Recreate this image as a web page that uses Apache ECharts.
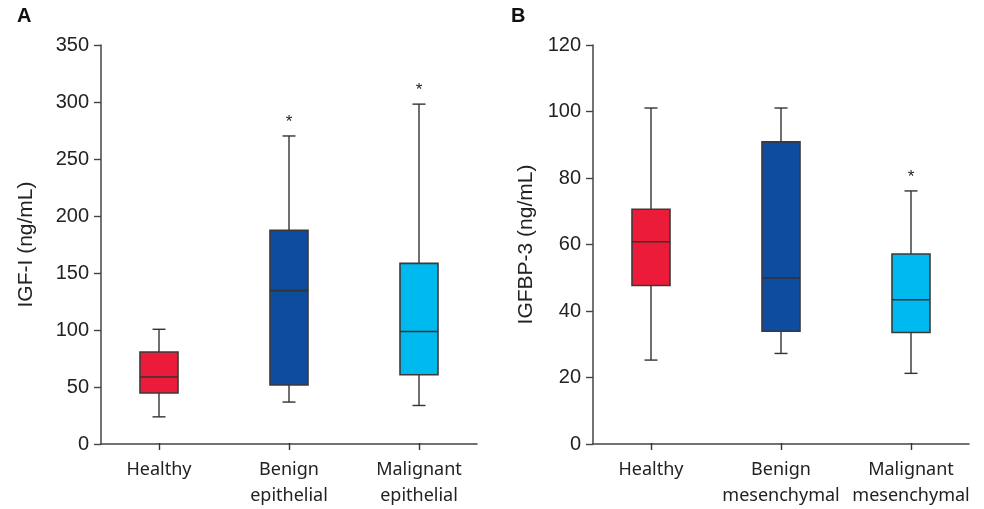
<!DOCTYPE html>
<html>
<head>
<meta charset="utf-8">
<script src="https://cdn.jsdelivr.net/npm/echarts@6/dist/echarts.min.js"></script>
<style>
  html, body { margin: 0; padding: 0; background: #fff; }
  #chart { width: 984px; height: 509px; }
</style>
</head>
<body>
<div id="chart"></div>
<script>
// categories
const catsA = ['Healthy', 'Benign\nepithelial', 'Malignant\nepithelial'];
const catsB = ['Healthy', 'Benign\nmesenchymal', 'Malignant\nmesenchymal'];
// [min, Q1, median, Q3, max]
const igf1 = [
  [23, 44, 58, 80, 100],
  [36, 51, 134, 187, 270],
  [33, 60, 98, 158, 298]
];
const igfbp3 = [
  [25, 47.5, 60.7, 70.5, 101],
  [27, 33.7, 49.8, 90.8, 101],
  [21, 33.3, 43.2, 57, 76]
];
// significance marks
const starsA = [false, true, true];
const starsB = [false, false, true];
// axis ranges
const yMaxA = 350, yStepA = 50;
const yMaxB = 120, yStepB = 20;

const boxColors = ['#ED1B3A', '#0D4C9E', '#00B9EE'];
const ink = '#333';
const numFont = 'Liberation Sans';
const catFont = 'Noto Sans';

const chart = echarts.init(document.getElementById('chart'));

function renderBox(params, api) {
  const i = api.value(0);
  const lo = api.coord([i, api.value(1)]);
  const q1 = api.coord([i, api.value(2)]);
  const med = api.coord([i, api.value(3)]);
  const q3 = api.coord([i, api.value(4)]);
  const hi = api.coord([i, api.value(5)]);
  const star = api.value(6);
  const x = lo[0];
  const bw = 38, cap = 6.5;
  const line = (x1, y1, x2, y2, w) => ({
    type: 'line',
    shape: {x1, y1, x2, y2},
    style: {stroke: ink, lineWidth: w || 1.4}
  });
  const children = [
    line(x, hi[1], x, q3[1]),
    line(x, q1[1], x, lo[1]),
    line(x - cap, hi[1], x + cap, hi[1]),
    line(x - cap, lo[1], x + cap, lo[1]),
    {
      type: 'rect',
      shape: {x: x - bw / 2, y: q3[1], width: bw, height: q1[1] - q3[1]},
      style: {fill: boxColors[i], stroke: '#3a3a3a', lineWidth: 1.6}
    },
    line(x - bw / 2, med[1], x + bw / 2, med[1], 1.6)
  ];
  if (star) {
    children.push({
      type: 'text',
      style: {
        text: '*', x: x, y: hi[1] - 14,
        fill: '#222', font: '17px ' + numFont,
        align: 'center', verticalAlign: 'middle'
      }
    });
  }
  return {type: 'group', children};
}

function toData(arr, stars) {
  return arr.map((d, i) => [i].concat(d, [stars[i] ? 1 : 0]));
}

const catAxis = (cats, gi) => ({
  type: 'category',
  gridIndex: gi,
  data: cats,
  boundaryGap: true,
  axisLine: {show: false},
  axisTick: {show: true, alignWithLabel: true, length: 7, lineStyle: {color: ink, width: 1.4}},
  axisLabel: {
    color: '#222', fontFamily: catFont, fontSize: 18, lineHeight: 26,
    margin: 14, interval: 0
  },
  splitLine: {show: false}
});

const lineAxis = (gi) => ({
  type: 'value',
  gridIndex: gi,
  min: 0, max: 1,
  axisLine: {show: true, lineStyle: {color: '#444', width: 1.5}},
  axisTick: {show: false},
  axisLabel: {show: false},
  splitLine: {show: false}
});

const hiddenY = (gi, max, step) => ({
  type: 'value', gridIndex: gi, min: 0, max: max, interval: step,
  show: false, splitLine: {show: false}
});

const shownY = (gi, max, step, name, gap) => ({
  type: 'value', gridIndex: gi, min: 0, max: max, interval: step,
  name: name,
  nameLocation: 'middle',
  nameGap: gap,
  nameRotate: 90,
  nameTextStyle: {color: '#222', fontFamily: numFont, fontSize: 21},
  axisLine: {show: true, lineStyle: {color: '#444', width: 1.5}},
  axisTick: {show: true, length: 7, lineStyle: {color: '#444', width: 1.4}},
  axisLabel: {color: '#222', fontFamily: numFont, fontSize: 20, margin: 12},
  splitLine: {show: false}
});

chart.setOption({
  backgroundColor: '#fff',
  animation: false,
  title: [
    {text: 'A', left: 12, top: 1, textStyle: {fontFamily: numFont, fontSize: 20, fontWeight: 'bold', color: '#111'}},
    {text: 'B', left: 506, top: 1, textStyle: {fontFamily: numFont, fontSize: 20, fontWeight: 'bold', color: '#111'}}
  ],
  grid: [
    {left: 94, width: 390, top: 45, height: 399},
    {left: 101, width: 376, top: 45, height: 399},
    {left: 586, width: 390, top: 45, height: 399},
    {left: 593, width: 376, top: 45, height: 399}
  ],
  xAxis: [
    catAxis(catsA, 0),
    lineAxis(1),
    catAxis(catsB, 2),
    lineAxis(3)
  ],
  yAxis: [
    hiddenY(0, yMaxA, yStepA),
    shownY(1, yMaxA, yStepA, 'IGF-I (ng/mL)', 64),
    hiddenY(2, yMaxB, yStepB),
    shownY(3, yMaxB, yStepB, 'IGFBP-3 (ng/mL)', 56)
  ],
  series: [
    {
      type: 'custom', xAxisIndex: 0, yAxisIndex: 0,
      renderItem: renderBox,
      encode: {x: 0, y: [1, 2, 3, 4, 5]},
      data: toData(igf1, starsA)
    },
    {
      type: 'custom', xAxisIndex: 2, yAxisIndex: 2,
      renderItem: renderBox,
      encode: {x: 0, y: [1, 2, 3, 4, 5]},
      data: toData(igfbp3, starsB)
    }
  ]
});
</script>
</body>
</html>
